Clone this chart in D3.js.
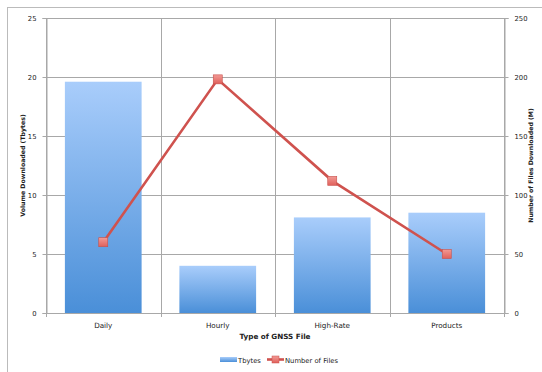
<!DOCTYPE html>
<html>
<head>
<meta charset="utf-8">
<script src="https://cdn.jsdelivr.net/npm/d3@7"></script>
<style>
  body { margin: 0; background: #fff; }
  svg text { font-family: "DejaVu Sans", sans-serif; fill: #222; }
</style>
</head>
<body>
<div id="chart"></div>
<script>
// datos del gráfico
const categorias = ["Daily", "Hourly", "High-Rate", "Products"];
const tbytes = [19.6, 4.0, 8.1, 8.5];
const numFiles = [60, 198, 112, 50];
const ticksIzq = [0, 5, 10, 15, 20, 25];
const ticksDer = [0, 50, 100, 150, 200, 250];

const width = 542, height = 372;
const margin = { top: 18, right: 38, bottom: 59, left: 46 };

const svg = d3.select("#chart").append("svg")
  .attr("width", width)
  .attr("height", height);

// marco exterior
svg.append("rect")
  .attr("x", 7.5).attr("y", 7.5)
  .attr("width", width).attr("height", height)
  .attr("fill", "none").attr("stroke", "#bbb");

const defs = svg.append("defs");
const grad = defs.append("linearGradient")
  .attr("id", "gradBar").attr("x1", 0).attr("y1", 0).attr("x2", 0).attr("y2", 1);
grad.append("stop").attr("offset", "0%").attr("stop-color", "#a9cdfb");
grad.append("stop").attr("offset", "100%").attr("stop-color", "#4a8fd8");

const gradM = defs.append("linearGradient")
  .attr("id", "gradMark").attr("x1", 0).attr("y1", 0).attr("x2", 0).attr("y2", 1);
gradM.append("stop").attr("offset", "0%").attr("stop-color", "#f29a95");
gradM.append("stop").attr("offset", "100%").attr("stop-color", "#e0605b");

const x = d3.scaleBand()
  .domain(categorias)
  .range([margin.left, width - margin.right])
  .paddingInner(0.33).paddingOuter(0.165);

const yL = d3.scaleLinear().domain([0, 25]).range([height - margin.bottom, margin.top]);
const yR = d3.scaleLinear().domain([0, 250]).range([height - margin.bottom, margin.top]);

const x0 = margin.left, x1 = width - margin.right;
const step = (x1 - x0) / categorias.length;

// rejilla horizontal
svg.append("g").selectAll("line").data(ticksIzq).join("line")
  .attr("x1", x0).attr("x2", x1)
  .attr("y1", d => Math.round(yL(d)) + 0.5).attr("y2", d => Math.round(yL(d)) + 0.5)
  .attr("stroke", "#a8a8a8").attr("stroke-width", 1);

// rejilla vertical
svg.append("g").selectAll("line").data(d3.range(categorias.length + 1)).join("line")
  .attr("x1", i => Math.round(x0 + i * step) + 0.5).attr("x2", i => Math.round(x0 + i * step) + 0.5)
  .attr("y1", margin.top).attr("y2", height - margin.bottom + 4)
  .attr("stroke", "#a8a8a8").attr("stroke-width", 1);

// barras
svg.append("g").selectAll("rect").data(tbytes).join("rect")
  .attr("x", (d, i) => x(categorias[i]))
  .attr("y", d => yL(d))
  .attr("width", x.bandwidth())
  .attr("height", d => yL(0) - yL(d))
  .attr("fill", "url(#gradBar)");

// ejes
const ejeIzq = svg.append("g")
  .attr("transform", `translate(${x0 + 0.5},0)`)
  .call(d3.axisLeft(yL).tickValues(ticksIzq).tickSize(4).tickPadding(6));
const ejeDer = svg.append("g")
  .attr("transform", `translate(${x1 + 0.5},0)`)
  .call(d3.axisRight(yR).tickValues(ticksDer).tickSize(4).tickPadding(6));
[ejeIzq, ejeDer].forEach(g => {
  g.select(".domain").attr("stroke", "#a8a8a8");
  g.selectAll(".tick line").attr("stroke", "#a8a8a8");
  g.selectAll(".tick text").attr("font-size", "6.8px").attr("font-family", "DejaVu Sans, sans-serif").attr("fill", "#222");
});

// etiquetas de categoría
svg.append("g").selectAll("text").data(categorias).join("text")
  .attr("x", d => x(d) + x.bandwidth() / 2)
  .attr("y", height - margin.bottom + 15)
  .attr("text-anchor", "middle")
  .attr("font-size", "7.2px")
  .text(d => d);

// títulos de ejes
svg.append("text")
  .attr("x", (x0 + x1) / 2).attr("y", height - margin.bottom + 26)
  .attr("text-anchor", "middle").attr("font-size", "7.2px").attr("font-weight", "bold")
  .text("Type of GNSS File");

svg.append("text")
  .attr("transform", `translate(25,${(margin.top + height - margin.bottom) / 2}) rotate(-90)`)
  .attr("text-anchor", "middle").attr("font-size", "6.2px").attr("font-weight", "bold")
  .text("Volume Downloaded (Tbytes)");

svg.append("text")
  .attr("transform", `translate(533,${(margin.top + height - margin.bottom) / 2}) rotate(-90)`)
  .attr("text-anchor", "middle").attr("font-size", "6.2px").attr("font-weight", "bold")
  .text("Number of Files Downloaded (M)");

// línea
const linea = d3.line()
  .x((d, i) => x(categorias[i]) + x.bandwidth() / 2)
  .y(d => yR(d));

svg.append("path")
  .datum(numFiles)
  .attr("d", linea)
  .attr("fill", "none")
  .attr("stroke", "#cf524e")
  .attr("stroke-width", 2.6);

svg.append("g").selectAll("rect").data(numFiles).join("rect")
  .attr("x", (d, i) => x(categorias[i]) + x.bandwidth() / 2 - 4.5)
  .attr("y", d => yR(d) - 4.5)
  .attr("width", 9).attr("height", 9)
  .attr("fill", "url(#gradMark)")
  .attr("stroke", "#c9504b").attr("stroke-width", 0.6);

// leyenda
const ley = svg.append("g").attr("transform", "translate(220,360)");
ley.append("rect").attr("x", 0).attr("y", -3).attr("width", 17).attr("height", 5).attr("fill", "url(#gradBar)");
ley.append("text").attr("x", 18).attr("y", 2.5).attr("font-size", "6.8px").text("Tbytes");
ley.append("line").attr("x1", 47).attr("x2", 64).attr("y1", -0.5).attr("y2", -0.5)
  .attr("stroke", "#cf524e").attr("stroke-width", 2.6);
ley.append("rect").attr("x", 52).attr("y", -4).attr("width", 7).attr("height", 7)
  .attr("fill", "url(#gradMark)").attr("stroke", "#c9504b").attr("stroke-width", 0.5);
ley.append("text").attr("x", 65).attr("y", 2.5).attr("font-size", "6.8px").text("Number of Files");
</script>
</body>
</html>
